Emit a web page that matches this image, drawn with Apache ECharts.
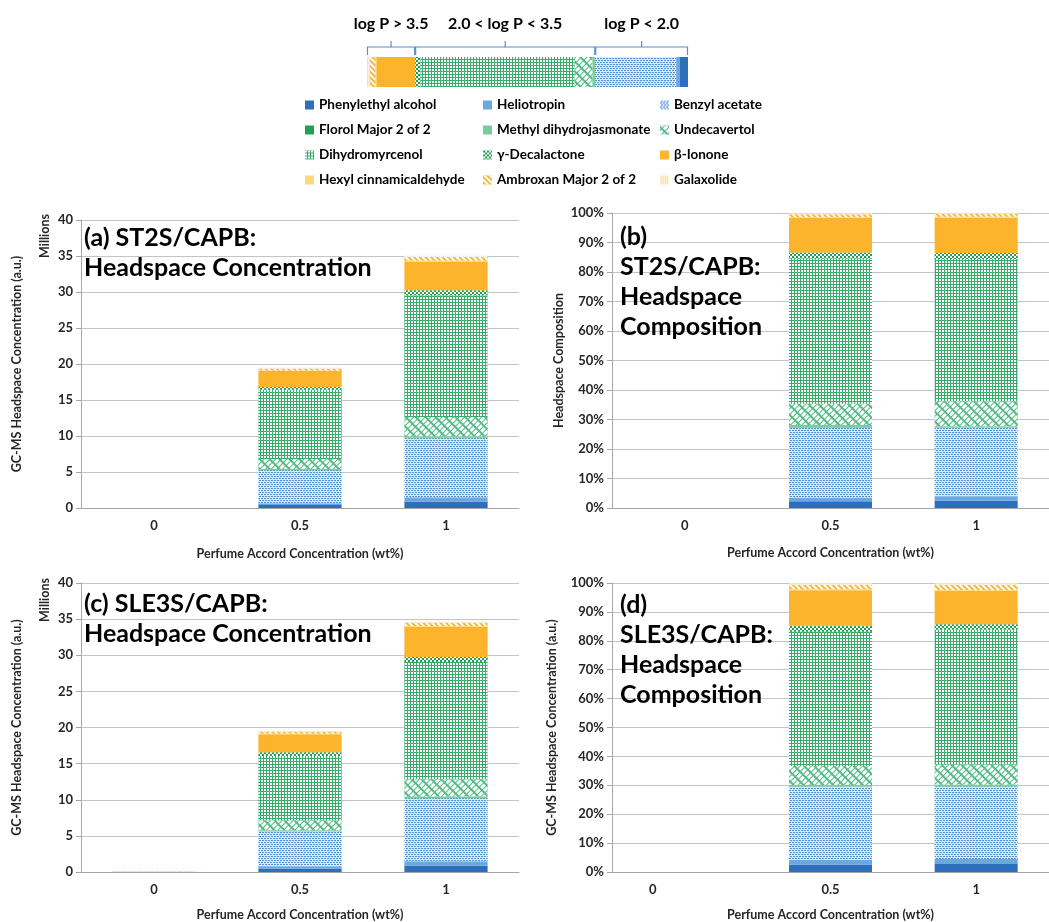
<!DOCTYPE html>
<html><head><meta charset="utf-8">
<script src="https://cdn.jsdelivr.net/npm/echarts@6/dist/echarts.min.js"></script>
<style>html,body{margin:0;padding:0;background:#fff}#c{width:1049px;height:922px}</style>
</head><body><div id="c"></div>
<script>
// ---------- DATA ----------
const categories = ['0', '0.5', '1'];
const compounds = ['Phenylethyl alcohol', 'Heliotropin', 'Benzyl acetate', 'Florol Major 2 of 2',
  'Methyl dihydrojasmonate', 'Undecavertol', 'Dihydromyrcenol', 'γ-Decalactone', 'β-Ionone',
  'Hexyl cinnamicaldehyde', 'Ambroxan Major 2 of 2', 'Galaxolide'];
const legendCol1 = ['Phenylethyl alcohol', 'Florol Major 2 of 2', 'Dihydromyrcenol', 'Hexyl cinnamicaldehyde'];
const legendCol2 = ['Heliotropin', 'Methyl dihydrojasmonate', 'γ-Decalactone', 'Ambroxan Major 2 of 2'];
const legendCol3 = ['Benzyl acetate', 'Undecavertol', 'β-Ionone', 'Galaxolide'];

// values per compound (same order as compounds), one array per bar
// (a) ST2S/CAPB, millions
const concA_0 = [0, 0, 0, 0, 0, 0, 0, 0, 0, 0, 0, 0];
const concA_05 = [0.4, 0.25, 4.6, 0.02, 0.15, 1.4, 9.6, 0.4, 2.2, 0.05, 0.3, 0.1];
const concA_1 = [0.9, 0.6, 8.2, 0.05, 0.2, 2.7, 16.9, 0.7, 4.0, 0.1, 0.5, 0.2];
// (b) ST2S/CAPB, %
const compB_0 = [0, 0, 0, 0, 0, 0, 0, 0, 0, 0, 0, 0];
const compB_05 = [2.3, 1.3, 23.5, 0.1, 0.9, 7.2, 49.3, 2.0, 11.7, 0.3, 1.0, 0.4];
const compB_1 = [2.5, 1.5, 23.2, 0.1, 0.4, 8.5, 48.2, 2.0, 12.0, 0.3, 1.0, 0.3];
// (c) SLE3S/CAPB, millions
const concC_0 = [0, 0, 0, 0, 0, 0, 0, 0, 0, 0, 0.06, 0.04];
const concC_05 = [0.5, 0.3, 4.8, 0.02, 0.15, 1.4, 8.9, 0.5, 2.5, 0.05, 0.25, 0.1];
const concC_1 = [0.9, 0.6, 8.7, 0.05, 0.2, 2.4, 16.2, 0.7, 4.2, 0.1, 0.45, 0.15];
// (d) SLE3S/CAPB, %
const compD_0 = [0, 0, 0, 0, 0, 0, 0, 0, 0, 0, 0, 0];
const compD_05 = [2.6, 1.6, 25.3, 0.1, 0.5, 6.6, 46.4, 2.1, 12.3, 0.3, 1.6, 0.6];
const compD_1 = [2.8, 1.7, 25.1, 0.1, 0.5, 7.0, 46.6, 1.9, 11.6, 0.3, 1.8, 0.6];
// key bar at top (%)
const keyBar = [2.5, 1.2, 25.2, 0.1, 0.8, 5.6, 48.0, 1.6, 12.1, 0.3, 1.7, 0.9];
const logPGroups = ['log P > 3.5', '2.0 < log P < 3.5', 'log P < 2.0'];

const yTicksConc = { min: 0, max: 40, interval: 5 };
const yTicksComp = { min: 0, max: 100, interval: 10 };

// ---------- STYLES ----------
const FONT = 'Lato, "Noto Sans", sans-serif';
const styles = [
  { color: '#2e6fbd' },
  { color: '#6aa9df' },
  { color: '#dce9f7', decal: { symbol: 'rect', symbolSize: 1, symbolKeepAspect: false, color: '#4f8fd3', dashArrayX: [[2, 1], [0, 1, 2, 0]], dashArrayY: [1, 1] } },
  { color: '#1fa055' },
  { color: '#7ccaa2' },
  { color: '#52bb85', decal: { symbol: 'rect', symbolSize: 1, symbolKeepAspect: false, color: '#ffffff', dashArrayX: [5, 2], dashArrayY: [3, 1], rotation: -Math.PI / 4 } },
  { color: '#38ad6b', decal: { symbol: 'rect', symbolSize: 1, symbolKeepAspect: false, color: '#ffffff', dashArrayX: [2, 1], dashArrayY: [2, 1] } },
  { color: '#1f9f56', decal: { symbol: 'rect', symbolSize: 1, symbolKeepAspect: false, color: '#ffffff', dashArrayX: [[2, 2], [0, 2, 2, 0]], dashArrayY: [2, 0] } },
  { color: '#fbb42c' },
  { color: '#ffd976' },
  { color: '#f8b737', decal: { symbol: 'rect', symbolSize: 1, symbolKeepAspect: false, color: '#ffffff', dashArrayX: [2, 2], dashArrayY: [4, 0], rotation: -Math.PI / 4 } },
  { color: '#fde3a0', decal: { symbol: 'rect', symbolSize: 1, symbolKeepAspect: false, color: '#ffffff', dashArrayX: [1, 1], dashArrayY: [1, 1] } }
];

const panels = [
  { bars: [concA_0, concA_05, concA_1], grid: { left: 81, top: 220, width: 438, height: 288 }, ticks: yTicksConc, pct: false,
    yName: 'GC-MS Headspace Concentration (a.u.)', nameGap: 58, xGap: 39, title: '(a) ST2S/CAPB:\nHeadspace Concentration', tl: 84, tt: 223, shift0: 0 },
  { bars: [compB_0, compB_05, compB_1], grid: { left: 612, top: 213, width: 446, height: 295 }, ticks: yTicksComp, pct: true,
    yName: 'Headspace Composition', nameGap: 47, xGap: 38, title: '(b)\nST2S/CAPB:\nHeadspace\nComposition', tl: 620, tt: 222, shift0: 0 },
  { bars: [concC_0, concC_05, concC_1], grid: { left: 81, top: 583, width: 438, height: 289 }, ticks: yTicksConc, pct: false,
    yName: 'GC-MS Headspace Concentration (a.u.)', nameGap: 58, xGap: 36, title: '(c) SLE3S/CAPB:\nHeadspace Concentration', tl: 84, tt: 589, shift0: 0 },
  { bars: [compD_0, compD_05, compD_1], grid: { left: 612, top: 583, width: 446, height: 297 }, ticks: yTicksComp, pct: true,
    yName: 'GC-MS Headspace Concentration (a.u.)', nameGap: 54, xGap: 36, title: '(d)\nSLE3S/CAPB:\nHeadspace\nComposition', tl: 620, tt: 590, shift0: 64 }
];

const grids = [{ left: 367, top: 57, width: 321, height: 30 }];
const xAxes = [{ type: 'value', gridIndex: 0, inverse: true, min: 0, max: 100, show: false }];
const yAxes = [{ type: 'category', gridIndex: 0, data: ['key'], show: false }];
const series = [];
const titles = [];
const txt = { fontFamily: FONT, fontWeight: 'bold', fontSize: 13, color: '#262626' };
const nameTxt = { fontFamily: FONT, fontWeight: 'bold', fontSize: 12.5, color: '#262626' };

compounds.forEach((name, i) => {
  series.push({ type: 'bar', name, xAxisIndex: 0, yAxisIndex: 0, stack: 'key', barWidth: '100%',
    itemStyle: styles[i], data: [keyBar[i]], silent: true });
});

panels.forEach((p, k) => {
  const gi = k + 1;
  grids.push(p.grid);
  xAxes.push({ type: 'category', gridIndex: gi, data: categories,
    axisLine: { lineStyle: { color: '#a6a6a6' } }, axisTick: { show: false },
    axisLabel: Object.assign({ margin: 11,
      formatter: (v, idx) => (idx === 0 && p.shift0) ? '{s|' + v + '}' : v,
      rich: { s: { padding: [0, p.shift0, 0, 0], fontFamily: FONT, fontWeight: 'bold', fontSize: 13, color: '#262626' } } }, txt),
    name: 'Perfume Accord Concentration (wt%)', nameLocation: 'middle', nameGap: p.xGap, nameTextStyle: nameTxt });
  yAxes.push({ type: 'value', gridIndex: gi, min: p.ticks.min, max: p.ticks.max, interval: p.ticks.interval,
    axisLine: { show: true, lineStyle: { color: '#a6a6a6' } },
    axisTick: { show: true, length: 5, lineStyle: { color: '#a6a6a6' } },
    splitLine: { lineStyle: { color: '#c4c4c4' } },
    axisLabel: Object.assign({ margin: 8, formatter: p.pct ? '{value}%' : '{value}' }, txt),
    name: p.yName, nameLocation: 'middle', nameGap: p.nameGap, nameTextStyle: nameTxt });
  compounds.forEach((name, i) => {
    series.push({ type: 'bar', name, xAxisIndex: gi, yAxisIndex: gi, stack: 'p' + k, barWidth: '57%',
      itemStyle: styles[i], data: p.bars.map(b => b[i]), silent: true });
  });
  titles.push({ text: p.title, left: p.tl, top: p.tt, padding: 0,
    textStyle: { fontFamily: FONT, fontWeight: 'bold', fontSize: 25, lineHeight: 30, color: '#000' } });
});

const legendBase = { orient: 'vertical', top: 98, itemWidth: 9, itemHeight: 9, itemGap: 11, icon: 'rect',
  selectedMode: false, padding: 0, textStyle: { fontFamily: FONT, fontWeight: 'bold', fontSize: 13.5, color: '#000' } };

const chart = echarts.init(document.getElementById('c'), null, { renderer: 'canvas' });
chart.setOption({
  animation: false,
  backgroundColor: '#fff',
  title: titles,
  legend: [
    Object.assign({ left: 305, data: legendCol1 }, legendBase),
    Object.assign({ left: 483, data: legendCol2 }, legendBase),
    Object.assign({ left: 660, data: legendCol3 }, legendBase)
  ],
  grid: grids, xAxis: xAxes, yAxis: yAxes, series
});

// brackets over key bar, from group boundaries
const groupEnds = [[11, 8], [7, 3], [2, 0]]; // compound index ranges (left..right)
const cum = (upto) => keyBar.slice(0, upto).reduce((s, v) => s + v, 0);
const graphics = [];
const bc = '#5a8ccf';
groupEnds.forEach((g, j) => {
  const x0 = chart.convertToPixel({ xAxisIndex: 0 }, cum(g[0] + 1));
  const x1 = chart.convertToPixel({ xAxisIndex: 0 }, cum(g[1]));
  const xm = (x0 + x1) / 2;
  graphics.push({ type: 'polyline', shape: { points: [[x0 + 0.5, 55], [x0 + 0.5, 47], [x1 - 0.5, 47], [x1 - 0.5, 55]] },
    style: { stroke: bc, lineWidth: 1.2, fill: null } });
  graphics.push({ type: 'line', shape: { x1: xm, y1: 47, x2: xm, y2: 41 }, style: { stroke: bc, lineWidth: 1.2 } });
  graphics.push({ type: 'text', x: xm, y: 24, style: { text: logPGroups[j], textAlign: 'center', textVerticalAlign: 'middle',
    font: 'bold 16px ' + FONT, fill: '#000' } });
});
[236, 600].forEach(y => {
  graphics.push({ type: 'text', x: 45, y, rotation: Math.PI / 2, style: { text: 'Millions', textAlign: 'center',
    textVerticalAlign: 'middle', font: 'bold 12.5px ' + FONT, fill: '#262626' } });
});
chart.setOption({ graphic: graphics });
</script>
</body></html>
